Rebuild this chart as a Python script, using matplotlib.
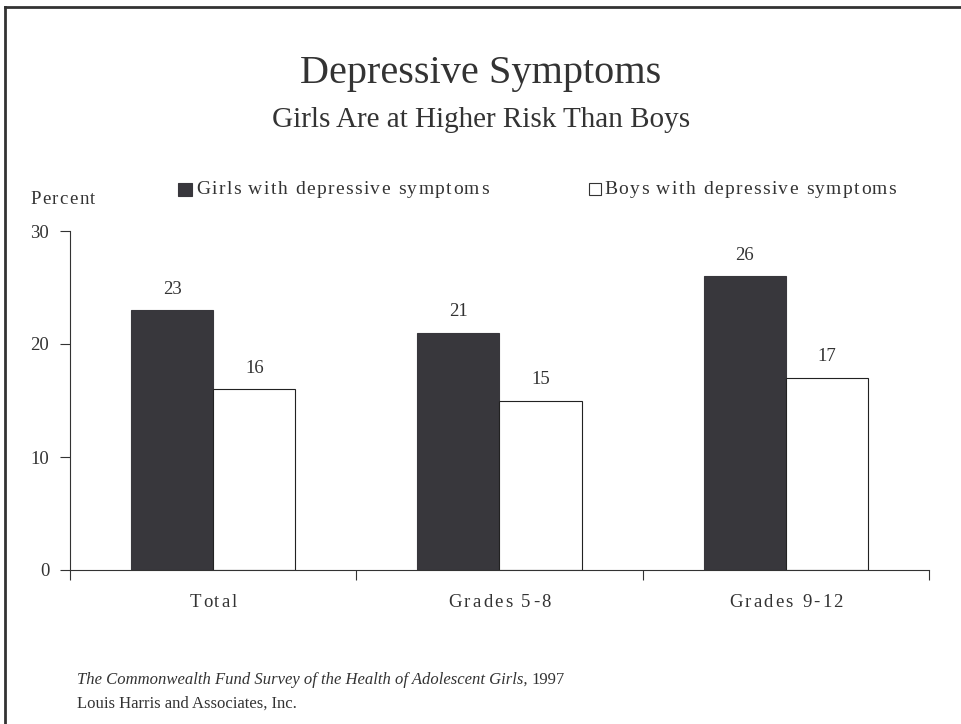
import matplotlib
matplotlib.use("Agg")
import matplotlib.pyplot as plt
import numpy as np
from matplotlib.lines import Line2D
from matplotlib.patches import Rectangle
from matplotlib.font_manager import FontProperties

categories = ["Total", "Grades 5-8", "Grades 9-12"]
girls = [23, 21, 26]
boys = [16, 15, 17]
yticks = [0, 10, 20, 30]
series_labels = ["Girls with depressive symptoms", "Boys with depressive symptoms"]

plt.rcParams['font.family'] = ['Liberation Serif', 'DejaVu Serif']
tc = '#333333'
dark = '#38373c'
W, H = 962, 724

fig = plt.figure(figsize=(9.62, 7.24), dpi=100)
renderer = fig.canvas.get_renderer()
ax = fig.add_axes([70/W, 1-570/H, (929-70)/W, (570-231)/H])


def text_width(s, size, style='normal'):
    if not s:
        return 0.0
    fp = FontProperties(family=plt.rcParams['font.family'], size=size, style=style)
    w, h, d = renderer.get_text_width_height_descent(s, fp, ismath=False)
    return w


def spaced_text(xpx, ypx, s, size, spacing, ha='left', style='normal', va='baseline'):
    total = text_width(s, size, style) + spacing * (len(s) - 1)
    if ha == 'center':
        x0 = xpx - total / 2
    elif ha == 'right':
        x0 = xpx - total
    else:
        x0 = xpx
    for i, ch in enumerate(s):
        if ch == ' ':
            continue
        xi = x0 + text_width(s[:i], size, style) + spacing * i
        fig.text(xi / W, 1 - ypx / H, ch, ha='left', va=va, fontsize=size,
                 style=style, color=tc)
    return x0 + total


x = np.arange(len(categories))
w = 0.287
ax.bar(x - w/2, girls, width=w, color=dark, edgecolor=dark, linewidth=0.8)
ax.bar(x + w/2, boys, width=w, color='white', edgecolor='#222222', linewidth=0.8)

for xi, v in zip(x - w/2, girls):
    ax.annotate(str(v), (xi, v), xytext=(0, 9), textcoords='offset points',
                ha='center', va='bottom', fontsize=13.5, color=tc)
for xi, v in zip(x + w/2, boys):
    ax.annotate(str(v), (xi, v), xytext=(0, 9), textcoords='offset points',
                ha='center', va='bottom', fontsize=13.5, color=tc)

ax.set_xlim(-0.5, len(categories) - 0.5)
ax.set_ylim(0, 30)
ax.set_yticks(yticks)
ax.set_yticklabels([str(t) for t in yticks], fontsize=13.5, color=tc)
ax.set_xticks(np.arange(len(categories) + 1) - 0.5)
ax.set_xticklabels([])
ax.tick_params(axis='x', which='major', length=7, direction='out', color='#333333', width=0.8)
ax.tick_params(axis='y', length=7, direction='out', color='#333333', width=0.8, pad=8)
for s in ['top', 'right']:
    ax.spines[s].set_visible(False)
for s in ['left', 'bottom']:
    ax.spines[s].set_color('#333333')
    ax.spines[s].set_linewidth(0.8)

# category labels (letter-spaced)
for xi, lab in zip(x, categories):
    cx = 70 + (xi + 0.5) / len(categories) * (929 - 70)
    spaced_text(cx, 607, lab, 13.5, 2.2, ha='center')

fig.text(0.5, 1-83/H, "Depressive Symptoms", ha='center', va='baseline', fontsize=29, color=tc)
fig.text(0.5, 1-127/H, "Girls Are at Higher Risk Than Boys", ha='center', va='baseline', fontsize=21, color=tc)
spaced_text(30, 204, "Percent", 13.5, 1.5)

# legend
fig.patches.append(Rectangle((178/W, 1-196/H), 14/W, 13/H, transform=fig.transFigure,
                             facecolor=dark, edgecolor=dark, lw=0.8))
spaced_text(196, 194, series_labels[0], 14, 1.4)
fig.patches.append(Rectangle((589/W, 1-195/H), 12/W, 12/H, transform=fig.transFigure,
                             facecolor='white', edgecolor='#333333', lw=0.8))
spaced_text(604, 194, series_labels[1], 14, 1.4)

# footer
src = "The Commonwealth Fund Survey of the Health of Adolescent Girls,"
fig.text(77/W, 1-684/H, src, ha='left', va='baseline', fontsize=12, style='italic', color=tc)
wsrc = text_width(src + " ", 12, 'italic')
fig.text((77 + wsrc)/W, 1-684/H, "1997", ha='left', va='baseline', fontsize=12, color=tc)
fig.text(77/W, 1-708/H, "Louis Harris and Associates, Inc.", ha='left', va='baseline', fontsize=12, color=tc)

# frame
fig.add_artist(Line2D([5/W, 5/W], [0, 1-7/H], transform=fig.transFigure, color='#333333', lw=2))
fig.add_artist(Line2D([5/W, 1], [1-7/H, 1-7/H], transform=fig.transFigure, color='#333333', lw=2))

fig.savefig("out.png", dpi=100)
